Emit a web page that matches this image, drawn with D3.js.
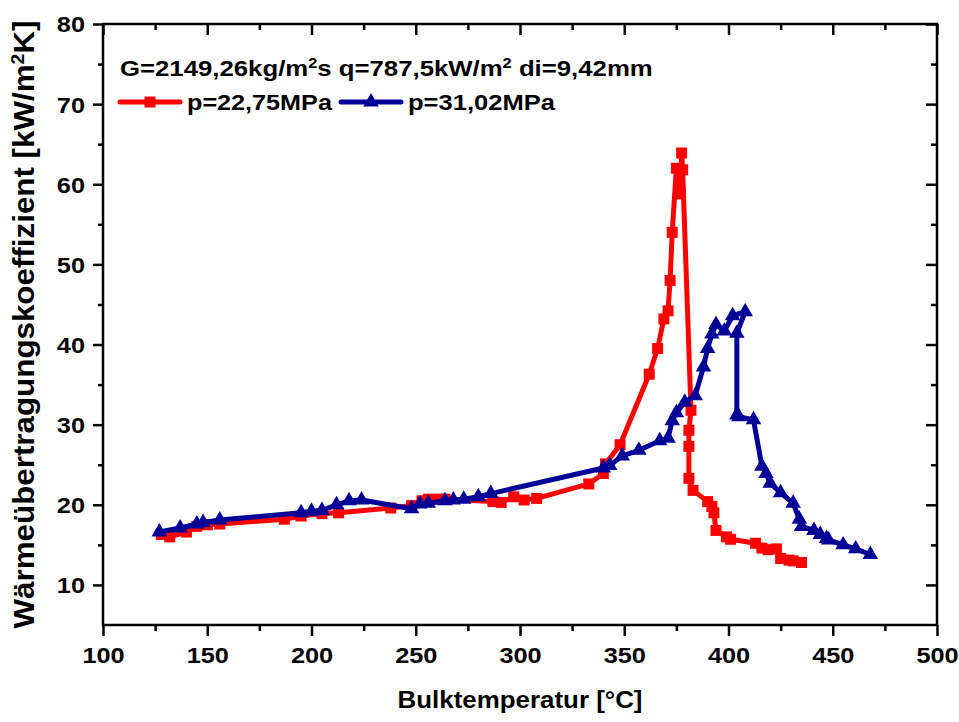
<!DOCTYPE html>
<html>
<head>
<meta charset="utf-8">
<script src="https://cdn.jsdelivr.net/npm/d3@7"></script>
<style>
  body { margin: 0; background: #fff; }
  svg text { font-family: "Liberation Sans", Arial, sans-serif; font-weight: bold; fill: #000; }
</style>
</head>
<body>
<div id="chart"></div>
<script>
// p = 22,75 MPa (red squares)
const redTemp = [128, 132, 140, 145, 150, 156, 187, 195, 205, 213, 238, 248, 253, 256, 261, 264, 287, 291, 297, 302, 308,
    333, 340, 341, 348, 362, 366, 369, 371, 372, 373, 375, 376, 376.5, 377, 377.5, 378, 382, 381, 381, 381, 383,
    390, 392, 393, 394, 399, 401, 413, 416, 419, 423, 425, 429, 431, 435];
const redHtc = [16.3, 16.0, 16.6, 17.3, 17.5, 17.6, 18.2, 18.6, 18.9, 19.0, 19.6, 19.9, 20.5, 20.7, 20.7, 20.7, 20.4, 20.3, 21.0, 20.6, 20.8,
    22.6, 23.9, 25.1, 27.5, 36.3, 39.5, 43.2, 44.2, 48.0, 54.0, 62.0, 59.7, 60.8, 58.8, 63.9, 61.8, 31.8, 29.3, 27.3, 23.3, 21.8,
    20.4, 19.8, 19.0, 16.8, 16.0, 15.7, 15.2, 14.6, 14.4, 14.5, 13.3, 13.1, 13.0, 12.8];

// p = 31,02 MPa (blue triangles)
const blueTemp = [127, 137, 145, 148, 156, 195, 200, 205, 212, 218, 224, 248, 252, 256, 264, 268, 273, 280, 286,
    340, 343, 349, 357, 367, 371, 373, 375, 379, 384, 388, 390, 392, 394, 398, 402, 408, 404, 404, 405, 412,
    416, 418, 420, 425, 431, 434, 435, 441, 444, 447, 448, 455, 461, 468];
const blueHtc = [16.6, 17.1, 17.6, 17.8, 18.1, 19.0, 19.2, 19.3, 20.0, 20.5, 20.6, 19.5, 20.1, 20.2, 20.5, 20.6, 20.7, 21.0, 21.4,
    24.6, 24.9, 26.1, 26.8, 28.0, 28.3, 30.5, 31.5, 32.8, 33.6, 37.2, 39.5, 41.3, 42.5, 41.7, 43.6, 44.1, 41.4, 31.2, 31.0, 30.6,
    24.8, 23.9, 22.7, 21.5, 20.2, 18.2, 17.3, 16.8, 16.3, 15.8, 15.6, 15.0, 14.5, 13.8];

const xMajorTicks = [100, 150, 200, 250, 300, 350, 400, 450, 500];
const yMajorTicks = [10, 20, 30, 40, 50, 60, 70, 80];
const seriesNames = ['p=22,75MPa', 'p=31,02MPa'];

const width = 959, height = 722;
const margin = {top: 24, right: 22, bottom: 97, left: 103};
const plotW = width - margin.left - margin.right;
const plotH = height - margin.top - margin.bottom;

const redColor = '#ff0000', blueColor = '#000096';
const textStretch = 1.15; // reference glyphs are a bit wider than Liberation Sans

const svg = d3.select('#chart')
    .append('svg')
    .attr('width', width)
    .attr('height', height);

const x = d3.scaleLinear().domain([100, 500]).range([0, plotW]);
const y = d3.scaleLinear().domain([5, 80]).range([plotH, 0]);

const chart = svg.append('g')
    .attr('transform', `translate(${margin.left},${margin.top})`);

// minor ticks (no labels)
const xMinor = d3.range(125, 500, 50);
const yMinor = d3.range(15, 80, 10);

function styleAxis(g) {
    g.select('.domain').remove();
    g.selectAll('.tick line').attr('stroke', '#000').attr('stroke-width', 2.5);
    g.selectAll('.tick text').style('font-size', '22px').attr('fill', '#000');
}

chart.append('g')
    .attr('transform', `translate(0,${plotH})`)
    .call(d3.axisBottom(x).tickValues(xMajorTicks).tickSize(11).tickPadding(8).tickFormat(d3.format('d')))
    .call(styleAxis)
    .selectAll('.tick text')
    .attr('y', 0).attr('dy', 0)
    .attr('transform', `translate(0,38) scale(${textStretch},1)`);

chart.append('g')
    .attr('transform', `translate(0,${plotH})`)
    .call(d3.axisBottom(x).tickValues(xMinor).tickSize(6).tickFormat(''))
    .call(styleAxis);

chart.append('g')
    .call(d3.axisLeft(y).tickValues(yMajorTicks).tickSize(10).tickPadding(8).tickFormat(d3.format('d')))
    .call(styleAxis)
    .selectAll('.tick text')
    .attr('x', 0).attr('dy', '0.36em')
    .attr('transform', `translate(-18,0) scale(${textStretch},1)`);

chart.append('g')
    .call(d3.axisLeft(y).tickValues(yMinor).tickSize(5).tickFormat(''))
    .call(styleAxis);

// top and right ticks point inward
chart.append('g')
    .call(d3.axisBottom(x).tickValues(xMajorTicks).tickSize(11).tickFormat(''))
    .call(styleAxis);
chart.append('g')
    .call(d3.axisBottom(x).tickValues(xMinor).tickSize(6).tickFormat(''))
    .call(styleAxis);
chart.append('g')
    .attr('transform', `translate(${plotW},0)`)
    .call(d3.axisLeft(y).tickValues(yMajorTicks).tickSize(11).tickFormat(''))
    .call(styleAxis);
chart.append('g')
    .attr('transform', `translate(${plotW},0)`)
    .call(d3.axisLeft(y).tickValues(yMinor).tickSize(6).tickFormat(''))
    .call(styleAxis);

// frame
chart.append('rect')
    .attr('width', plotW)
    .attr('height', plotH)
    .attr('fill', 'none')
    .attr('stroke', '#000')
    .attr('stroke-width', 2.5);

const line = d3.line().x(d => x(d[0])).y(d => y(d[1]));
const redData = d3.zip(redTemp, redHtc);
const blueData = d3.zip(blueTemp, blueHtc);

const square = d3.symbol().type(d3.symbolSquare).size(121);
const triangle = d3.symbol().type(d3.symbolTriangle).size(105);

function drawSeries(data, color, symbol) {
    chart.append('path')
        .datum(data)
        .attr('d', line)
        .attr('fill', 'none')
        .attr('stroke', color)
        .attr('stroke-width', 5)
        .attr('stroke-linejoin', 'round')
        .attr('stroke-linecap', 'round');
    chart.append('g')
        .selectAll('path')
        .data(data)
        .enter()
        .append('path')
        .attr('d', symbol)
        .attr('transform', d => `translate(${x(d[0])},${y(d[1])})`)
        .attr('fill', color);
}

drawSeries(redData, redColor, square);
drawSeries(blueData, blueColor, triangle);

// stretch a text element horizontally (in its own frame) so it spans the wanted length
function fitText(sel, base, target) {
    const w = sel.node().getComputedTextLength();
    sel.attr('transform', `${base} scale(${target / w},1)`);
}

// legend
const legend = svg.append('g');
const info = legend.append('text')
    .style('font-size', '22px');
info.append('tspan').text('G=2149,26kg/m');
info.append('tspan').attr('dy', -8).style('font-size', '14px').text('2');
info.append('tspan').attr('dy', 8).text('s q=787,5kW/m');
info.append('tspan').attr('dy', -8).style('font-size', '14px').text('2');
info.append('tspan').attr('dy', 8).text(' di=9,42mm');
fitText(info, 'translate(120,76)', 533);

const legendItems = [
    {name: seriesNames[0], color: redColor, symbol: square, x0: 120, tw: 145},
    {name: seriesNames[1], color: blueColor, symbol: triangle, x0: 341, tw: 147}
];
legendItems.forEach(item => {
    const g = legend.append('g').attr('transform', `translate(${item.x0},102)`);
    g.append('line')
        .attr('x1', 0).attr('x2', 60)
        .attr('stroke', item.color)
        .attr('stroke-width', 5)
        .attr('stroke-linecap', 'round');
    g.append('path')
        .attr('d', item.symbol)
        .attr('transform', 'translate(30,0)')
        .attr('fill', item.color);
    const t = g.append('text')
        .style('font-size', '22px')
        .text(item.name);
    fitText(t, 'translate(67,8)', item.tw);
});

// axis titles
const xTitle = svg.append('text')
    .attr('text-anchor', 'middle')
    .style('font-size', '24px')
    .text('Bulktemperatur [°C]');
fitText(xTitle, `translate(${margin.left + plotW / 2},708)`, 245);

const yTitle = svg.append('text')
    .attr('text-anchor', 'middle')
    .style('font-size', '29px');
yTitle.append('tspan').text('Wärmeübertragungskoeffizient [kW/m');
yTitle.append('tspan').attr('dy', -10).style('font-size', '18px').text('2');
yTitle.append('tspan').attr('dy', 10).text('K]');
fitText(yTitle, `translate(34,${margin.top + plotH / 2}) rotate(-90)`, 608);
</script>
</body>
</html>
